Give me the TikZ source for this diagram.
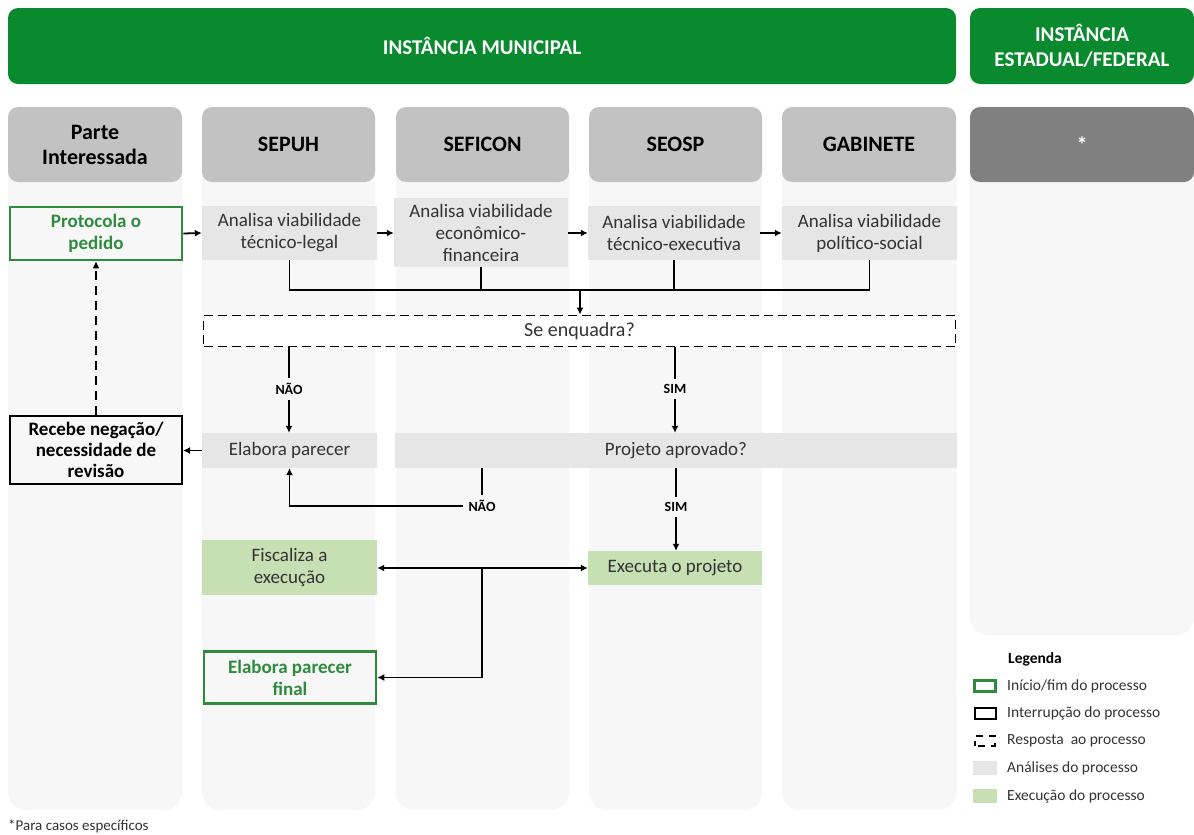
\documentclass[tikz,border=0pt]{standalone}
\usepackage{fontspec}
\setmainfont{Carlito}
\usetikzlibrary{arrows.meta}
\definecolor{hgreen}{HTML}{0A8A2E}
\definecolor{bgreen}{HTML}{2E8B3E}
\definecolor{hgrey}{HTML}{C2C2C2}
\definecolor{dgrey}{HTML}{808080}
\definecolor{lanec}{HTML}{F7F7F7}
\definecolor{agrey}{HTML}{E6E6E6}
\definecolor{egreen}{HTML}{C6E0B4}
\definecolor{txt}{HTML}{333333}
\tikzset{
  lane/.style={fill=lanec, rounded corners=18pt},
  tophead/.style={fill=hgreen, rounded corners=10pt, text=white, font=\fontsize{21}{25}\selectfont\bfseries, align=center, inner sep=0pt},
  colhead/.style={fill=hgrey, rounded corners=10pt, text=black, font=\fontsize{22}{25}\selectfont\bfseries, align=center, inner sep=0pt, minimum height=75pt, minimum width=174pt},
  anbox/.style={fill=agrey, text=txt, font=\fontsize{19}{22}\selectfont, align=center, inner sep=0pt},
  exbox/.style={fill=egreen, text=txt, font=\fontsize{19}{22}\selectfont, align=center, inner sep=0pt},
  endbox/.style={draw=bgreen, line width=2.6pt, text=bgreen, font=\fontsize{19}{22}\selectfont\bfseries, align=center, inner sep=0pt},
  intbox/.style={draw=black, line width=2pt, text=black, font=\fontsize{19}{21}\selectfont\bfseries, align=center, inner sep=0pt},
  ansbox/.style={draw=black, line width=1.8pt, dash pattern=on 9pt off 5pt, fill=white, text=txt, font=\fontsize{20}{22}\selectfont, inner sep=0pt},
  lbl/.style={font=\fontsize{14}{16}\selectfont\bfseries, text=black, inner sep=5pt},
  conn/.style={line width=1.8pt, draw=black},
  arr/.style={conn, -{Latex[length=7pt,width=7pt]}},
  darr/.style={conn, {Latex[length=7pt,width=7pt]}-{Latex[length=7pt,width=7pt]}},
  legtxt/.style={anchor=west, text=txt, font=\fontsize{15.5}{17}\selectfont, inner sep=0pt}
}
\begin{document}
\begin{tikzpicture}[x=1pt,y=-1pt]
\useasboundingbox[fill=white] (0,0) rectangle (1194,835);
% lanes
\fill[lane] (8,150) rectangle (182,810);
\fill[lane] (202,150) rectangle (375,810);
\fill[lane] (396,150) rectangle (569,810);
\fill[lane] (589,150) rectangle (762,810);
\fill[lane] (782,150) rectangle (956,810);
\fill[lane] (970,150) rectangle (1194,635);
% top headers
\node[tophead, minimum width=948pt, minimum height=76pt] (hmun) at (482,46) {INSTÂNCIA MUNICIPAL};
\node[tophead, minimum width=224pt, minimum height=76pt] (hest) at (1082,46) {INSTÂNCIA\\ESTADUAL/FEDERAL};
% column headers
\node[colhead] (hparte) at (95,144.5) {Parte\\Interessada};
\node[colhead, minimum width=173pt] (hsepuh) at (288.5,144.5) {SEPUH};
\node[colhead, minimum width=173pt] (hseficon) at (482.5,144.5) {SEFICON};
\node[colhead, minimum width=173pt] (hseosp) at (675.5,144.5) {SEOSP};
\node[colhead] (hgab) at (869,144.5) {GABINETE};
\node[colhead, fill=dgrey, text=white, minimum width=224pt] (hstar) at (1082,144.5) {*};
% process nodes
\node[endbox, minimum width=172pt, minimum height=53pt] (proto) at (96,233.5) {Protocola o\\pedido};
\node[anbox, minimum width=175pt, minimum height=54pt] (a1) at (289.5,233) {Analisa viabilidade\\técnico-legal};
\node[anbox, minimum width=174pt, minimum height=69pt] (a2) at (481,232.5) {Analisa viabilidade\\econômico-\\financeira};
\node[anbox, minimum width=172pt, minimum height=54pt] (a3) at (674,233) {Analisa viabilidade\\técnico-executiva};
\node[anbox, minimum width=175pt, minimum height=54pt] (a4) at (869.5,233) {Analisa viabilidade\\político-social};
\node[ansbox, minimum width=752pt, minimum height=31pt] (enq) at (579.5,331) {Se enquadra?};
\node[anbox, minimum width=175pt, minimum height=35pt] (elab) at (289.5,450.5) {Elabora parecer};
\node[anbox, minimum width=562pt, minimum height=35pt] (proj) at (676,450.5) {Projeto aprovado?};
\node[intbox, minimum width=172pt, minimum height=68pt] (receb) at (96,450) {Recebe negação/\\necessidade de\\revisão};
\node[exbox, minimum width=175pt, minimum height=55pt] (fisc) at (289.5,567.5) {Fiscaliza a\\execução};
\node[exbox, minimum width=174pt, minimum height=34pt] (exec) at (675,568) {Executa o projeto};
\node[endbox, minimum width=172pt, minimum height=52pt] (final) at (290,677.5) {Elabora parecer\\final};
% connectors row 1
\draw[arr] (proto.east) -- (a1.west);
\draw[arr] (a1.east) -- (a2.west |- a1.east);
\draw[arr] (a2.east |- a3.west) -- (a3.west);
\draw[arr] (a3.east) -- (a4.west);
\coordinate (m) at (580,290);
\draw[conn] (a1.south) -- (a1.south |- m) -- (a4.south |- m) -- (a4.south);
\draw[conn] (a2.south) -- (a2.south |- m);
\draw[conn] (a3.south) -- (a3.south |- m);
\draw[arr] (m) -- (enq.north -| m);
% se enquadra
\node[lbl] (nao1) at (289,389) {NÃO};
\node[lbl] (sim1) at (675,389) {SIM};
\draw[conn] (enq.south -| nao1) -- (nao1.north);
\draw[arr] (nao1.south) -- (elab.north -| nao1);
\draw[conn] (enq.south -| sim1) -- (sim1.north);
\draw[arr] (sim1.south) -- (proj.north -| sim1);
% elabora parecer -> recebe
\draw[arr] (elab.west) -- (receb.east |- elab.west);
\draw[arr, dash pattern=on 9pt off 6pt] (receb.north) -- (proto.south);
% projeto aprovado
\node[lbl] (nao2) at (482,506) {NÃO};
\node[lbl] (sim2) at (676,507) {SIM};
\draw[conn] (proj.south -| nao2) -- (nao2.north);
\draw[arr] (nao2.west) -| (elab.south);
\draw[conn] (proj.south -| sim2) -- (sim2.north);
\draw[arr] (sim2.south) -- (exec.north -| sim2);
% execution
\draw[darr] (fisc.east |- exec.west) -- (exec.west);
\coordinate (j) at (482,568);
\draw[arr] (j) |- (final.east);
% legend
\node[anchor=west, inner sep=0pt, text=black, font=\fontsize{15.5}{17}\selectfont\bfseries] (leg) at (1008,659) {Legenda};
\node[draw=bgreen, line width=2.4pt, fill=white, minimum width=21pt, minimum height=11pt, inner sep=0pt] (l1) at (985,686) {};
\node[draw=black, line width=2pt, fill=white, minimum width=21pt, minimum height=11pt, inner sep=0pt] (l2) at (985,713) {};
\node[draw=black, line width=1.8pt, dash pattern=on 7pt off 6pt, dash phase=-3pt, minimum width=20pt, minimum height=10pt, inner sep=0pt] (l3) at (985,741) {};
\node[fill=agrey, minimum width=24pt, minimum height=14pt, inner sep=0pt] (l4) at (985,768) {};
\node[fill=egreen, minimum width=24pt, minimum height=14pt, inner sep=0pt] (l5) at (985,796) {};
\node[legtxt] (t1) at (1007,686) {Início/fim do processo};
\node[legtxt] (t2) at (1007,713) {Interrupção do processo};
\node[legtxt] (t3) at (1007,741) {Resposta\ \ ao processo};
\node[legtxt] (t4) at (1007,768) {Análises do processo};
\node[legtxt] (t5) at (1007,796) {Execução do processo};
% footnote
\node[anchor=west, inner sep=0pt, text=txt, font=\fontsize{15}{17}\selectfont] (foot) at (8,826) {*Para casos específicos};
\end{tikzpicture}
\end{document}
